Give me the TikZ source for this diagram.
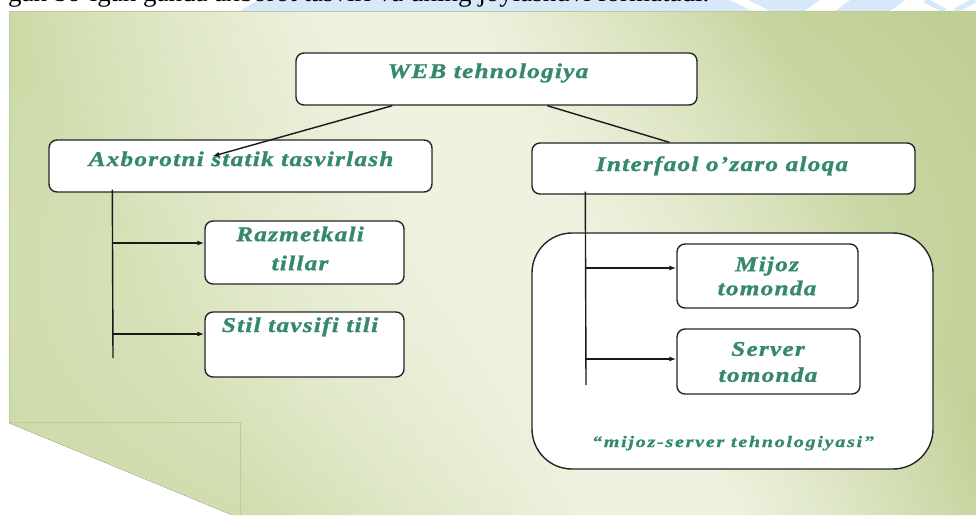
\documentclass[tikz,border=0pt]{standalone}
\usepackage{fontspec}
\setmainfont{Liberation Serif}
\newfontfamily\boxfont[FakeStretch=1.2, LetterSpace=6, FakeBold=1.2]{Liberation Serif}
\newfontfamily\capfont[FakeStretch=1.25, LetterSpace=11, FakeBold=1]{Liberation Serif}
\usetikzlibrary{arrows.meta,fadings,calc}
\definecolor{txtgreen}{HTML}{34896A}
\definecolor{gA}{HTML}{C8D7A0}
\definecolor{gP}{HTML}{EEF2DF}
\definecolor{gB}{HTML}{C0D095}
\definecolor{skyblue}{HTML}{D6E8FA}
\definecolor{edgec}{HTML}{BCCB98}
\pgfdeclarehorizontalshading{slidebg}{100bp}{color(0bp)=(gA); color(30bp)=(gA); color(48bp)=(gP); color(56bp)=(gP); color(72bp)=(gB); color(100bp)=(gB)}
\tikzfading[name=glowfade, inner color=transparent!0, outer color=transparent!100]
\begin{document}
\begin{tikzpicture}[x=1pt,y=-1pt,
  box/.style={draw=black!85, line width=1.4pt, fill=white, rounded corners=8pt, inner sep=0pt},
  lbl/.style={text=txtgreen, font=\boxfont\bfseries\itshape\fontsize{21}{27}\selectfont, align=center, inner sep=0pt},
  conn/.style={line width=1.4pt, draw=black!90},
  arr/.style={conn, -{Latex[length=7pt,width=5pt]}}]
\useasboundingbox (0,0) rectangle (976,515);
\fill[white] (0,0) rectangle (976,515);
% top strip of the page
\fill[skyblue] (240,11) -- (258,0) -- (905,0) -- (890,11) -- cycle;
\fill[white] (730,0) -- (748,0) -- (770,11) -- (752,11) -- cycle;
\fill[white] (820,0) -- (850,0) -- (835,11) -- (805,11) -- cycle;
\draw[skyblue, line width=5pt] (925,0) -- (945,11);
\draw[skyblue, line width=5pt] (975,0) -- (955,11);
\node[anchor=base west, inner sep=0pt, font=\fontsize{27}{27}\selectfont] (toptxt) at (8,1) {gan bo'lgan ganda axborot tasviri va uning joylashuvi formatadi.};
% slide background
\begin{scope}
  \clip (9,11) -- (976,11) -- (976,515) -- (232,515) -- (9,423) -- cycle;
  \fill[shading=slidebg, shading angle=28] (9,11) rectangle (976,515);
  \fill[gP, path fading=glowfade, opacity=0.7] (430,270) ellipse [x radius=620, y radius=420];
  \draw[edgec, line width=0.6pt] (9,422) -- (240,422) -- (240,515);
\end{scope}
\draw[edgec, line width=0.8pt] (9,423) -- (9,11) -- (976,11);
% boxes
\node[box, minimum width=401pt, minimum height=52pt] (web) at (496.5,79) {};
\node[lbl, anchor=base] (webt) at (488,78) {WEB tehnologiya};
\node[box, minimum width=383pt, minimum height=52pt] (axb) at (240.5,166) {};
\node[lbl, anchor=base] (axbt) at (241,166) {Axborotni statik tasvirlash};
\node[box, minimum width=383pt, minimum height=51pt] (inter) at (723.5,168.5) {};
\node[lbl, anchor=base] (intert) at (722,171) {Interfaol o’zaro aloqa};
\node[box, minimum width=199pt, minimum height=63pt] (raz) at (304.5,252.5) {};
\node[lbl, font=\boxfont\bfseries\itshape\fontsize{21}{29}\selectfont] (razt) at (300,248.5) {Razmetkali\\tillar};
\node[box, minimum width=199pt, minimum height=65pt] (stil) at (304.5,344.5) {};
\node[lbl, anchor=base] (stilt) at (300,332) {Stil tavsifi tili};
\node[box, rounded corners=40pt, minimum width=401pt, minimum height=236pt] (cont) at (732.5,351) {};
\node[box, minimum width=181pt, minimum height=64pt] (mij) at (767.5,276) {};
\node[lbl, font=\boxfont\bfseries\itshape\fontsize{21}{24}\selectfont] (mijt) at (767,276) {Mijoz\\tomonda};
\node[box, minimum width=183pt, minimum height=65pt] (srv) at (768.5,361.5) {};
\node[lbl, font=\boxfont\bfseries\itshape\fontsize{21}{26}\selectfont] (srvt) at (768,362) {Server\\tomonda};
\node[text=txtgreen, font=\capfont\bfseries\itshape\fontsize{16}{16}\selectfont, anchor=base, inner sep=0pt] (capt) at (733,447) {“mijoz-server tehnologiyasi”};
% connectors
\draw[arr] ([xshift=97pt]web.south west) -- ([xshift=164pt,yshift=-17pt]axb.north west);
\draw[conn] ([xshift=252pt]web.south west) -- ([xshift=138pt]inter.north west);
\coordinate (ltop) at ([xshift=64pt,yshift=3pt]axb.south west);
\coordinate (lbot) at (113,358);
\draw[conn] (ltop) -- (lbot);
\coordinate (ra) at ([yshift=9.5pt]raz.west);
\coordinate (sa) at ([yshift=10.5pt]stil.west);
\draw[arr] (ltop |- ra) -- (ra);
\draw[arr] (ltop |- sa) -- (sa);
\coordinate (rtop) at ([xshift=54pt,yshift=3pt]inter.south west);
\coordinate (rbot) at (586,385);
\draw[conn] (rtop) -- (rbot);
\coordinate (ma) at ([yshift=8pt]mij.west);
\coordinate (va) at ([yshift=2.5pt]srv.west);
\draw[arr] (rtop |- ma) -- (ma);
\draw[arr] (rtop |- va) -- (va);
\end{tikzpicture}
\end{document}
